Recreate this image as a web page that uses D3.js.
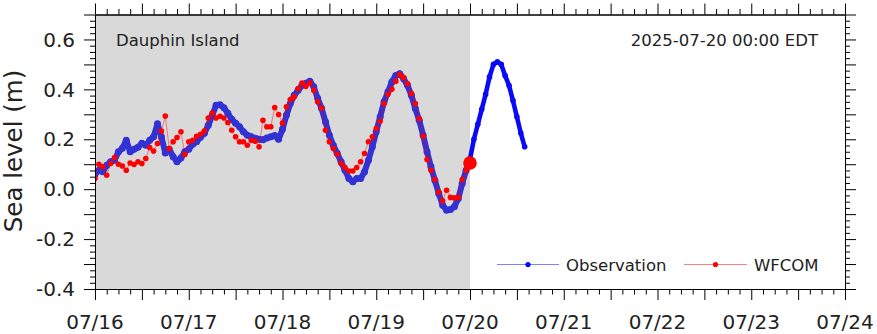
<!DOCTYPE html>
<html><head><meta charset="utf-8">
<script src="https://cdn.jsdelivr.net/npm/d3@7"></script>
<style>
body{margin:0;background:#fff}
svg{display:block}
text{font-family:"DejaVu Sans",sans-serif;fill:#222}
</style>
</head><body>
<svg id="chart" width="877" height="334"></svg>
<script>
// ---------------- data ----------------
const startTime = "2025-07-16T00:00:00Z";
const endTime = "2025-07-24T00:00:00Z";
const analysisTime = "2025-07-20T00:00:00Z";
const stepHours = 1;
const dayLabels = ["07/16","07/17","07/18","07/19","07/20","07/21","07/22","07/23","07/24"];
const yTickLabels = ["-0.4","-0.2","0.0","0.2","0.4","0.6"];
const seriesNames = ["Observation","WFCOM"];
const stationName = "Dauphin Island";
const timeStamp = "2025-07-20 00:00 EDT";
const yLabel = "Sea level (m)";

// hourly observed water level from 07/16 00:00
const obsValues = [
  0.06,0.076,0.07,0.096,0.11,0.116,0.15,0.164,0.196,0.15,0.16,0.168,
  0.184,0.176,0.196,0.21,0.262,0.21,0.145,0.16,0.13,0.11,0.125,0.15,
  0.16,0.18,0.19,0.208,0.224,0.256,0.296,0.336,0.338,0.326,0.304,0.28,
  0.264,0.25,0.23,0.216,0.21,0.204,0.2,0.198,0.205,0.21,0.215,0.2,
  0.24,0.296,0.343,0.376,0.396,0.416,0.425,0.433,0.41,0.364,0.324,0.27,
  0.216,0.176,0.144,0.11,0.076,0.043,0.03,0.043,0.043,0.07,0.116,0.17,
  0.23,0.29,0.35,0.39,0.43,0.456,0.463,0.443,0.416,0.376,0.323,0.276,
  0.216,0.15,0.09,0.036,-0.017,-0.064,-0.084,-0.081,-0.07,-0.037,0.023,0.076,
  0.12,0.2,0.26,0.32,0.38,0.45,0.5,0.51,0.5,0.455,0.415,0.355,
  0.29,0.225,0.17
];
// hourly WFCOM model values from 07/16 00:00 to 07/20 00:00
const wfcomValues = [
  0.043,0.1,0.09,0.056,0.103,0.127,0.1,0.093,0.076,0.105,0.099,0.11,
  0.103,0.123,0.167,0.153,0.183,0.233,0.293,0.163,0.19,0.207,0.23,0.139,
  0.19,0.196,0.212,0.22,0.233,0.285,0.305,0.285,0.292,0.285,0.267,0.236,
  0.21,0.19,0.19,0.176,0.196,0.192,0.17,0.276,0.25,0.25,0.327,0.299,
  0.265,0.33,0.359,0.37,0.403,0.425,0.412,0.425,0.396,0.35,0.325,0.236,
  0.19,0.163,0.14,0.103,0.087,0.073,0.073,0.087,0.11,0.143,0.19,0.21,
  0.243,0.272,0.343,0.38,0.4,0.433,0.459,0.447,0.423,0.383,0.343,0.283,
  0.212,0.119,0.076,0.039,-0.011,-0.047,-0.004,-0.033,-0.035,-0.033,0.039,0.076,
  0.105
];
const analysisValue = 0.105;

// ---------------- layout ----------------
const L = 95, R = 845, T = 14.5, B = 289;
const svg = d3.select("#chart");

const t0 = new Date(startTime), t1 = new Date(endTime), tA = new Date(analysisTime);
const hour = 3600 * 1000;
const x = d3.scaleUtc().domain([t0, t1]).range([L, R]);
const y = d3.scaleLinear().domain([-0.4, 0.7]).range([B, T]);

const obs = obsValues.map((v, i) => ({t: new Date(+t0 + i * stepHours * hour), v}));
const wf = wfcomValues.map((v, i) => ({t: new Date(+t0 + i * stepHours * hour), v}));

// shaded hindcast period
svg.append("rect")
  .attr("x", x(t0)).attr("y", T)
  .attr("width", x(tA) - x(t0)).attr("height", B - T)
  .attr("fill", "#d9d9d9");

svg.append("defs").append("clipPath").attr("id", "clip")
  .append("rect").attr("x", L).attr("y", T).attr("width", R - L).attr("height", B - T);

const plot = svg.append("g").attr("clip-path", "url(#clip)");
const line = d3.line().x(d => x(d.t)).y(d => y(d.v));

const obsPast = obs.filter(d => d.t <= tA);
const obsFut = obs.filter(d => d.t >= tA);
const pastColor = "#3131d4", futColor = "#0a0af5";

plot.append("path").datum(obsPast).attr("d", line)
  .attr("fill", "none").attr("stroke", pastColor).attr("stroke-width", 6)
  .attr("stroke-linejoin", "round").attr("stroke-linecap", "round");
plot.selectAll("circle.op").data(obsPast).join("circle").attr("class", "op")
  .attr("cx", d => x(d.t)).attr("cy", d => y(d.v)).attr("r", 3.5).attr("fill", pastColor);
plot.append("path").datum(obsFut).attr("d", line)
  .attr("fill", "none").attr("stroke", futColor).attr("stroke-width", 4.6)
  .attr("stroke-linejoin", "round").attr("stroke-linecap", "round");
plot.selectAll("circle.of").data(obsFut).join("circle").attr("class", "of")
  .attr("cx", d => x(d.t)).attr("cy", d => y(d.v)).attr("r", 2.8).attr("fill", futColor);

// WFCOM
plot.append("path").datum(wf).attr("d", line)
  .attr("fill", "none").attr("stroke", "#ff0000").attr("stroke-opacity", 0.45).attr("stroke-width", 1);
plot.selectAll("circle.wf").data(wf).join("circle").attr("class", "wf")
  .attr("cx", d => x(d.t)).attr("cy", d => y(d.v)).attr("r", 2.8).attr("fill", "#ff0000");
plot.append("circle").attr("cx", x(tA)).attr("cy", y(analysisValue)).attr("r", 6.8).attr("fill", "#ff0000");

// ---------------- axes ----------------
const yMajor = d3.range(-4, 8).map(k => k / 10);
const yMinor = d3.range(-16, 29).map(k => k / 40).filter(v => Math.abs(v * 10 - Math.round(v * 10)) > 1e-6);
const xMajor = d3.range(0, 8 * 24 + 1, 12).map(h => new Date(+t0 + h * hour));
const xMinor = d3.range(0, 8 * 24 + 1, 3).filter(h => h % 12 !== 0).map(h => new Date(+t0 + h * hour));

function styleAxis(g) {
  g.selectAll("path.domain").attr("stroke", "#000");
  g.selectAll(".tick line").attr("stroke", "#000");
  g.selectAll("text").remove();
}
function yFmt(v) {
  const k = Math.round(v * 10);
  if (k % 2 !== 0) return "";
  return yTickLabels[(k + 4) / 2];
}
function addAxis(gen, tx, ty, values, size) {
  const g = svg.append("g").attr("transform", `translate(${tx},${ty})`)
    .call(gen.tickValues(values).tickSize(size).tickSizeOuter(0).tickFormat(""));
  styleAxis(g);
}
addAxis(d3.axisLeft(y), L, 0, yMajor, 11);
addAxis(d3.axisLeft(y), L, 0, yMinor, 5);
addAxis(d3.axisRight(y), R, 0, yMajor, 11);
addAxis(d3.axisRight(y), R, 0, yMinor, 5);
addAxis(d3.axisBottom(x), 0, B, xMajor, 11);
addAxis(d3.axisBottom(x), 0, B, xMinor, 5.5);
addAxis(d3.axisTop(x), 0, T, xMajor, 11);
addAxis(d3.axisTop(x), 0, T, xMinor, 5.5);

// y tick labels
svg.append("g").selectAll("text").data(yMajor.filter(v => yFmt(v) !== "")).join("text")
  .attr("x", 75).attr("y", d => y(d)).attr("dy", "0.36em")
  .attr("text-anchor", "end").attr("font-size", 20)
  .text(d => yFmt(d));
// x tick labels
svg.append("g").selectAll("text").data(dayLabels).join("text")
  .attr("x", (d, i) => x(new Date(+t0 + i * 24 * hour)))
  .attr("y", 329).attr("text-anchor", "middle").attr("font-size", 20)
  .text(d => d);

// y label
svg.append("text").attr("transform", "translate(22,151) rotate(-90)")
  .attr("text-anchor", "middle").attr("font-size", 24.5).text(yLabel);

// annotations
svg.append("text").attr("x", 116).attr("y", 46).attr("font-size", 16.5).text(stationName);
svg.append("text").attr("x", 818).attr("y", 46).attr("text-anchor", "end").attr("font-size", 16.5).text(timeStamp);

// legend
const legend = [
  {name: seriesNames[0], color: "#0000ff", x1: 497, x2: 559, tx: 566},
  {name: seriesNames[1], color: "#ff0000", x1: 684, x2: 747, tx: 754}
];
const lg = svg.append("g");
legend.forEach(d => {
  lg.append("line").attr("x1", d.x1).attr("x2", d.x2).attr("y1", 264.5).attr("y2", 264.5)
    .attr("stroke", d.color).attr("stroke-opacity", 0.5).attr("stroke-width", 1);
  lg.append("circle").attr("cx", (d.x1 + d.x2) / 2).attr("cy", 264.5).attr("r", 2.6).attr("fill", d.color);
  lg.append("text").attr("x", d.tx).attr("y", 270.5).attr("font-size", 16.5).text(d.name);
});
</script>
</body></html>
